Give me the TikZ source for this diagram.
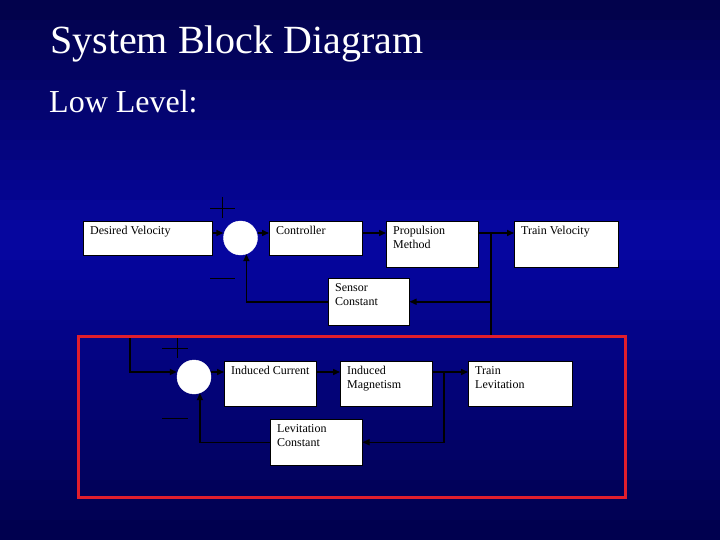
\documentclass[tikz,border=0pt]{standalone}
\usepackage{fontspec}
\setmainfont{Liberation Serif}
\usetikzlibrary{arrows.meta}
\definecolor{SlideTop}{RGB}{2,2,72}
\definecolor{SlideMid}{RGB}{6,6,162}
\definecolor{SlideBot}{RGB}{0,0,76}
\definecolor{FrameRed}{RGB}{225,30,45}

\begin{document}
\begin{tikzpicture}
    [x=1pt, y=-1pt,
    BlockNode/.style n args={3}{rectangle, draw=black, fill=white, line width=0.5pt, anchor=north west, inner sep=0pt, minimum width=#1, minimum height=#2, label={[BlockText]north west:{#3}}},
    BlockText/.style={anchor=north west, inner sep=0pt, xshift=7pt, yshift=-5pt, align=left, font=\fontsize{12}{14}\selectfont},
    SumNode/.style={circle, fill=white, draw=white, minimum size=34pt, inner sep=0pt},
    Link/.style={line width=1.5pt, color=black, -{Triangle[length=7pt, width=6pt]}},
    Sign/.style={line width=0.9pt, color=black},
    SlideText/.style={anchor=base west, inner sep=0pt, text=white}]
    \useasboundingbox (0,0) rectangle (720,540);
    \foreach \i in {0,...,26} {
      \pgfmathsetmacro{\ymid}{\i*20+10}
      \ifdim\ymid pt<240pt
        \pgfmathsetmacro{\mix}{\ymid/2.4}
        \fill[SlideMid!\mix!SlideTop] (0,\i*20) rectangle (720,\i*20+20.5);
      \else
        \pgfmathsetmacro{\mix}{(540-\ymid)/3}
        \fill[SlideMid!\mix!SlideBot] (0,\i*20) rectangle (720,{min(\i*20+20.5,540)});
      \fi
    }
    \node[SlideText, font=\fontsize{40}{44}\selectfont] (title) at (50,54) {System Block Diagram};
    \node[SlideText, font=\fontsize{32}{36}\selectfont] (level) at (49,113) {Low Level:};
    \node[BlockNode={129pt}{34pt}{Desired Velocity}] (dv) at (83,221) {};
    \node[SumNode] (s1) at (240.5,238) {};
    \node[BlockNode={93pt}{34pt}{Controller}] (ctrl) at (269,221) {};
    \node[BlockNode={92pt}{46pt}{Propulsion\\Method}] (prop) at (386,221) {};
    \node[BlockNode={104pt}{46pt}{Train Velocity}] (tv) at (514,221) {};
    \node[BlockNode={81pt}{47pt}{Sensor\\Constant}] (sens) at (328,278) {};
    \node[SumNode] (s2) at (194,377) {};
    \node[BlockNode={92pt}{45pt}{Induced Current}] (ic) at (224,361) {};
    \node[BlockNode={92pt}{45pt}{Induced\\Magnetism}] (im) at (340,361) {};
    \node[BlockNode={104pt}{45pt}{Train\\Levitation}] (tl) at (468,361) {};
    \node[BlockNode={92pt}{46pt}{Levitation\\Constant}] (lc) at (270,419) {};
    \coordinate (r1) at (0,233);
    \coordinate (r2) at (0,372);
    \coordinate (b1) at (491,233);
    \coordinate (b2) at (444,372);
    \coordinate (b3) at (130,337);
    \draw[Link] (dv.east |- r1) -- (s1.west |- r1);
    \draw[Link] (s1.east |- r1) -- (ctrl.west |- r1);
    \draw[Link] (ctrl.east |- r1) -- (prop.west |- r1);
    \draw[Link] (prop.east |- r1) -- (tv.west |- r1);
    \draw[Link] (b1) |- (sens.east);
    \draw[Link] (sens.west) -| (s1.-70);
    \draw[Link] (b1) -- (b1 |- b3) -- (b3) |- (s2.west |- r2);
    \draw[Link] (s2.east |- r2) -- (ic.west |- r2);
    \draw[Link] (ic.east |- r2) -- (im.west |- r2);
    \draw[Link] (im.east |- r2) -- (tl.west |- r2);
    \draw[Link] (b2) |- (lc.east);
    \draw[Link] (lc.west) -| (s2.-70);
    \draw[Sign] (210,208) -- (235,208) (222,197) -- (222,218);
    \draw[Sign] (210,278) -- (235,278);
    \draw[Sign] (162,348) -- (188,348) (177,338) -- (177,358);
    \draw[Sign] (162,418) -- (188,418);
    \draw[FrameRed, line width=3pt] (78,336) rectangle (625,497);
    \end{tikzpicture}
\end{document}
